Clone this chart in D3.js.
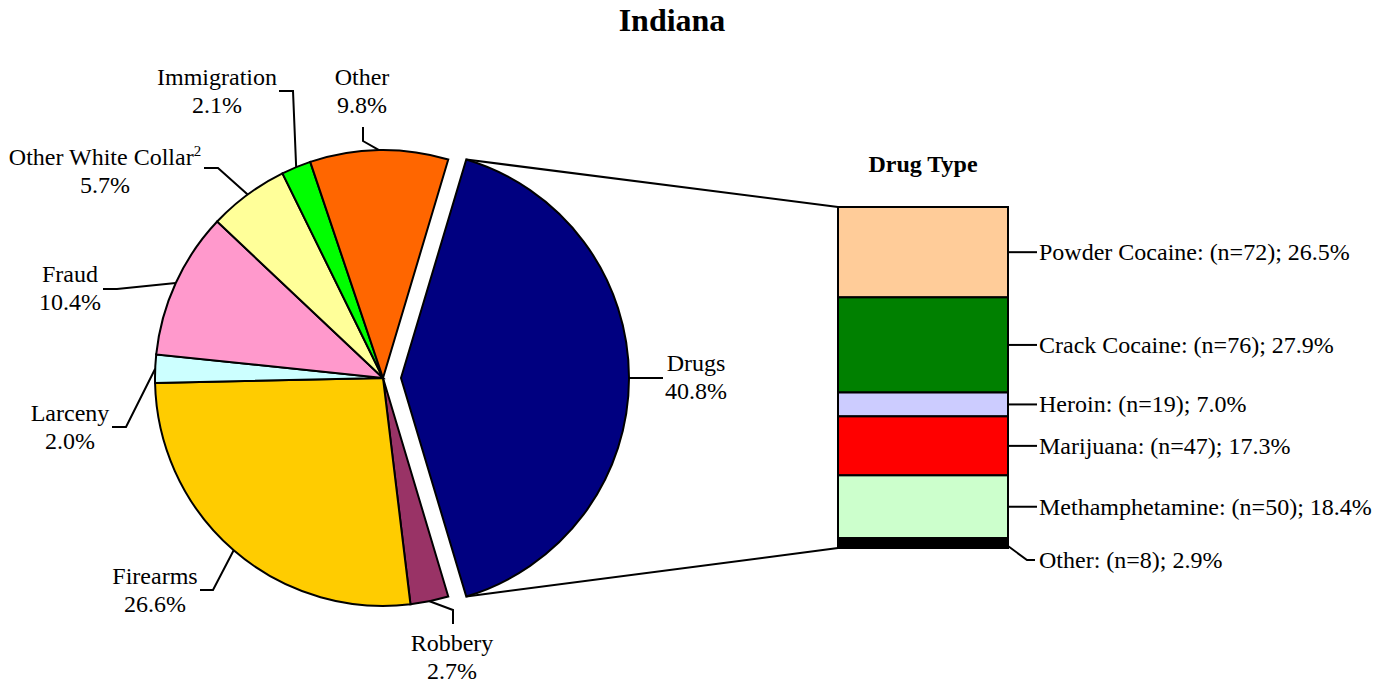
<!DOCTYPE html>
<html>
<head>
<meta charset="utf-8">
<script src="https://cdn.jsdelivr.net/npm/d3@7/dist/d3.min.js"></script>
<style>
	body { margin: 0; background: #fff; }
	text { font-family: "Liberation Serif", "Times New Roman", serif; fill: #000; }
</style>
</head>
<body>
<div id="chart"></div>
<script>
// offense types, clockwise starting with the exploded drug slice
var offenseNames = ["Drugs", "Robbery", "Firearms", "Larceny", "Fraud", "Other White Collar", "Immigration", "Other"];
var offensePct = [40.8, 2.7, 26.6, 2.0, 10.4, 5.7, 2.1, 9.8];
var offenseColors = ["#000080", "#993366", "#FFCC00", "#CCFFFF", "#FF99CC", "#FFFF99", "#00FF00", "#FF6600"];

// drug type breakdown, top to bottom
var drugNames = ["Powder Cocaine", "Crack Cocaine", "Heroin", "Marijuana", "Methamphetamine", "Other"];
var drugCounts = [72, 76, 19, 47, 50, 8];
var drugPct = [26.5, 27.9, 7.0, 17.3, 18.4, 2.9];
var drugColors = ["#FFCC99", "#008000", "#CCCCFF", "#FF0000", "#CCFFCC", "#000000"];

var width = 1385, height = 684;
var cx = 383, cy = 378, radius = 228, explode = 18;
var fontSize = 24;

// label placement: text centre x, first baseline, elbow points of the leader line
var pieLabelLayout = [
	{x: 696, y: 371, elbow: [[663, 378]]},
	{x: 452, y: 651, elbow: [[453, 624], [453, 610]]},
	{x: 155, y: 584, elbow: [[200, 590], [213, 590]]},
	{x: 70, y: 421, elbow: [[112, 427], [126, 427]]},
	{x: 70, y: 282, elbow: [[103, 289], [117, 289]]},
	{x: 105, y: 165, elbow: [[204, 168], [218, 168]]},
	{x: 217, y: 85, elbow: [[279, 91], [293, 91]]},
	{x: 362, y: 85, elbow: [[363, 127], [363, 141]]}
];

var svg = d3.select("#chart")
	.append("svg")
	.attr("width", width)
	.attr("height", height);

svg.append("text")
	.attr("x", 672)
	.attr("y", 31)
	.attr("text-anchor", "middle")
	.attr("font-size", "32px")
	.attr("font-weight", "bold")
	.text("Indiana");

var offenses = offenseNames.map(function(name, i){
	return {name: name, pct: offensePct[i], color: offenseColors[i], layout: pieLabelLayout[i]};
});

// drugs slice centred on 3 o'clock
var total = d3.sum(offensePct);
var a0 = Math.PI / 2 - Math.PI * offensePct[0] / total;
var pie = d3.pie()
	.sort(null)
	.value(function(d){ return d.pct; })
	.startAngle(a0)
	.endAngle(a0 + 2 * Math.PI);
var arcs = pie(offenses);

var arc = d3.arc().innerRadius(0).outerRadius(radius);

function polar(angle, r){
	return [r * Math.sin(angle), -r * Math.cos(angle)];
}
function shift(d){
	if(d.index != 0) return [0, 0];
	return polar((d.startAngle + d.endAngle) / 2, explode);
}

var pieG = svg.append("g")
	.attr("transform", "translate(" + cx + "," + cy + ")");

pieG.selectAll("path.slice")
	.data(arcs)
	.enter()
	.append("path")
	.attr("class", "slice")
	.attr("transform", function(d){ var s = shift(d); return "translate(" + s[0] + "," + s[1] + ")"; })
	.attr("d", arc)
	.attr("fill", function(d){ return d.data.color; })
	.attr("stroke", "#000")
	.attr("stroke-width", 2)
	.attr("stroke-linejoin", "miter");

// leader lines from slice edge to label
var line = d3.line();
arcs.forEach(function(d){
	var s = shift(d);
	var p = polar((d.startAngle + d.endAngle) / 2, radius);
	var anchor = [cx + s[0] + p[0], cy + s[1] + p[1]];
	var pts = d.data.layout.elbow.slice().concat([anchor]);
	svg.append("path")
		.attr("d", line(pts))
		.attr("fill", "none")
		.attr("stroke", "#000")
		.attr("stroke-width", 2);

	var t = svg.append("text")
		.attr("x", d.data.layout.x)
		.attr("y", d.data.layout.y)
		.attr("text-anchor", "middle")
		.attr("font-size", fontSize + "px");
	t.append("tspan").text(d.data.name);
	if(d.data.name == "Other White Collar"){
		t.append("tspan")
			.attr("font-size", "15px")
			.attr("dy", -9)
			.text("2");
	}
	svg.append("text")
		.attr("x", d.data.layout.x)
		.attr("y", d.data.layout.y + 28)
		.attr("text-anchor", "middle")
		.attr("font-size", fontSize + "px")
		.text(d.data.pct.toFixed(1) + "%");
});

// stacked bar of drug types
var barX = 838, barW = 170;
var yBar = d3.scaleLinear()
	.domain([0, d3.sum(drugPct)])
	.range([207, 548]);

var drugs = [];
var acc = 0;
drugNames.forEach(function(name, i){
	drugs.push({name: name, n: drugCounts[i], pct: drugPct[i], color: drugColors[i], y0: acc, y1: acc + drugPct[i]});
	acc += drugPct[i];
});

svg.append("text")
	.attr("x", barX + barW / 2)
	.attr("y", 172)
	.attr("text-anchor", "middle")
	.attr("font-size", "24px")
	.attr("font-weight", "bold")
	.text("Drug Type");

// lines joining exploded slice to the bar
var drugArc = arcs[0];
var ds = shift(drugArc);
var pTop = polar(drugArc.startAngle, radius);
var pBot = polar(drugArc.endAngle, radius);
svg.append("path")
	.attr("d", line([[cx + ds[0] + pTop[0], cy + ds[1] + pTop[1]], [barX, yBar(0)]]))
	.attr("stroke", "#000").attr("stroke-width", 2).attr("fill", "none");
svg.append("path")
	.attr("d", line([[cx + ds[0] + pBot[0], cy + ds[1] + pBot[1]], [barX, yBar(acc)]]))
	.attr("stroke", "#000").attr("stroke-width", 2).attr("fill", "none");

svg.selectAll("rect.drug")
	.data(drugs)
	.enter()
	.append("rect")
	.attr("class", "drug")
	.attr("x", barX)
	.attr("y", function(d){ return yBar(d.y0); })
	.attr("width", barW)
	.attr("height", function(d){ return yBar(d.y1) - yBar(d.y0); })
	.attr("fill", function(d){ return d.color; })
	.attr("stroke", "#000")
	.attr("stroke-width", 2);

drugs.forEach(function(d, i){
	var mid = yBar((d.y0 + d.y1) / 2);
	var labelY = mid;
	var pts = [[barX + barW, mid], [1037, mid]];
	if(i == drugs.length - 1){
		// last segment is too thin, label pushed below
		labelY = yBar(d.y1) + 12;
		pts = [[barX + barW, yBar(d.y1) - 2], [1027, labelY], [1035, labelY]];
	}
	svg.append("path")
		.attr("d", line(pts))
		.attr("fill", "none")
		.attr("stroke", "#000")
		.attr("stroke-width", 2);
	svg.append("text")
		.attr("x", 1039)
		.attr("y", labelY + 8)
		.attr("font-size", fontSize + "px")
		.text(d.name + ": (n=" + d.n + "); " + d.pct.toFixed(1) + "%");
});
</script>
</body>
</html>
